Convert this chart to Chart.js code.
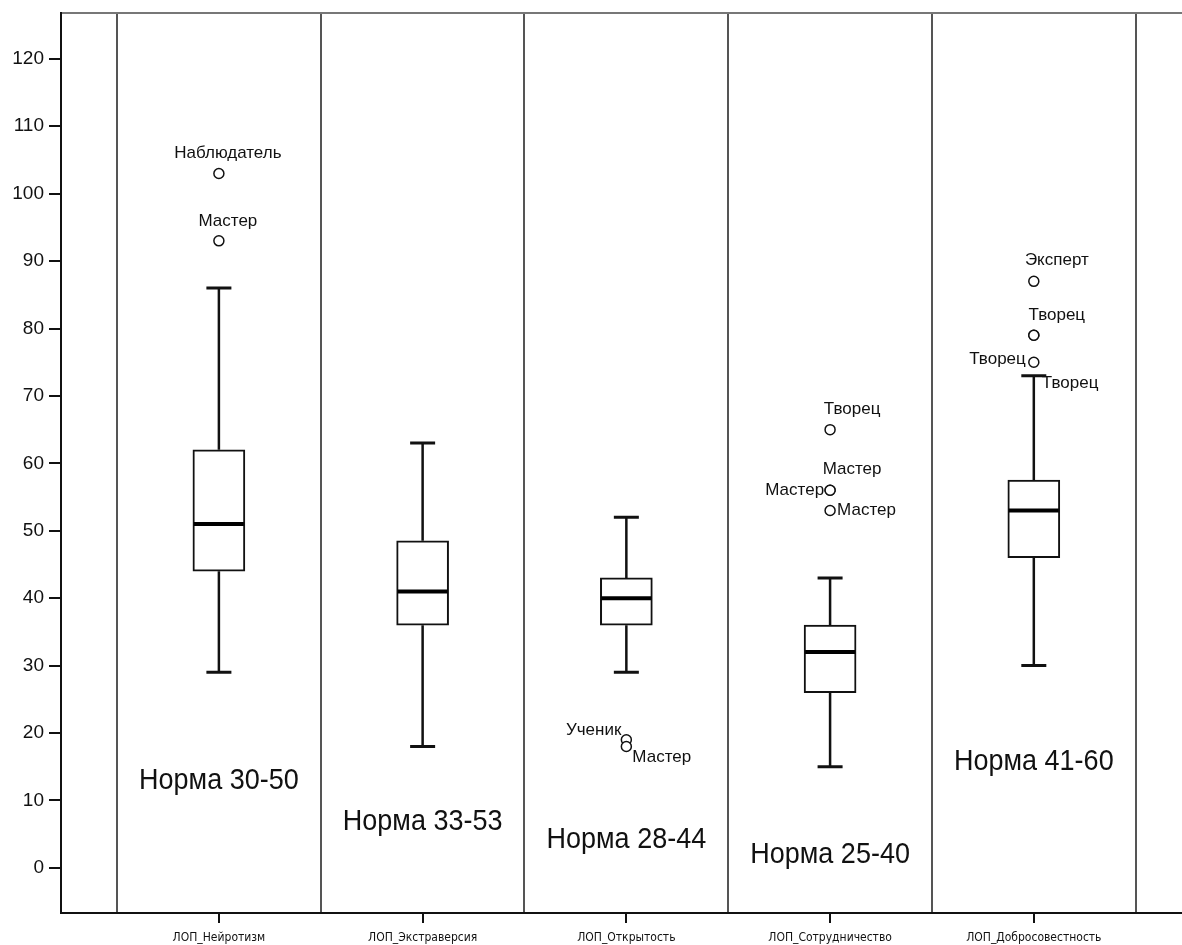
<!DOCTYPE html>
<html>
<head>
<meta charset="utf-8">
<script src="https://cdn.jsdelivr.net/npm/chart.js@4"></script>
<style>
    html, body { margin: 0; padding: 0; background: #fff; overflow: hidden; }
    canvas { display: block; }
</style>
</head>
<body>
<!-- a little wider than the window: the original plot runs past the right edge -->
<canvas id="boxChart" width="1187" height="945"></canvas>
<script>
"use strict";

// categories and box statistics
const categories = ['ЛОП_Нейротизм', 'ЛОП_Экстраверсия', 'ЛОП_Открытость', 'ЛОП_Сотрудничество', 'ЛОП_Добросовестность'];
const whiskerLow = [29, 18, 29, 15, 30];
const q1 = [44, 36, 36, 26, 46];
const median = [51, 41, 40, 32, 53];
const q3 = [62, 48.5, 43, 36, 57.5];
const whiskerHigh = [86, 63, 52, 43, 73];

// outliers: which box, value, name
const outlierBox = [0, 0, 2, 2, 3, 3, 3, 3, 4, 4, 4, 4];
const outlierValue = [103, 93, 19, 18, 65, 56, 56, 53, 87, 79, 79, 75];
const outlierName = ['Наблюдатель', 'Мастер', 'Ученик', 'Мастер', 'Творец', 'Мастер', 'Мастер', 'Мастер', 'Эксперт', 'Творец', 'Творец', 'Творец'];

const normText = ['Норма 30-50', 'Норма 33-53', 'Норма 28-44', 'Норма 25-40', 'Норма 41-60'];
const yTicks = [0, 10, 20, 30, 40, 50, 60, 70, 80, 90, 100, 110, 120];
const separators = [-0.5, 0.5, 1.5, 2.5, 3.5, 4.5];

// layout of the text pieces (not data)
const normLabelY = [12.9, 6.8, 4.2, 1.9, 15.7];
const outlierLabelPos = [
    { align: 'center', dx: 9, dy: -20 },
    { align: 'center', dx: 9, dy: -20 },
    { align: 'right', dx: -5, dy: -9 },
    { align: 'left', dx: 6, dy: 11 },
    { align: 'center', dx: 22, dy: -20 },
    { align: 'center', dx: 22, dy: -21 },
    { align: 'right', dx: -6, dy: 0 },
    { align: 'left', dx: 7, dy: 0 },
    { align: 'center', dx: 23, dy: -21 },
    { align: 'center', dx: 23, dy: -20 },
    { align: 'left', dx: 8, dy: 48 },
    { align: 'right', dx: -8, dy: -3 }
];

const ink = '#111';
const X_MIN = -0.775, X_MAX = 4.72;

// drop the label-overflow padding so the plot fills the canvas like the original
function noPadding(scale) {
    scale.paddingLeft = 0;
    scale.paddingRight = 0;
    scale.paddingTop = 0;
    scale.paddingBottom = 0;
}

const boxExtras = {
    id: 'boxExtras',
    beforeDatasetsDraw(chart) {
        const ctx = chart.ctx, x = chart.scales.x, y = chart.scales.y;
        ctx.save();
        ctx.strokeStyle = ink;
        ctx.lineCap = 'butt';
        categories.forEach((c, i) => {
            const px = x.getPixelForValue(i);
            ctx.lineWidth = 2.5;
            ctx.beginPath();
            ctx.moveTo(px, y.getPixelForValue(whiskerHigh[i]));
            ctx.lineTo(px, y.getPixelForValue(q3[i]));
            ctx.moveTo(px, y.getPixelForValue(q1[i]));
            ctx.lineTo(px, y.getPixelForValue(whiskerLow[i]));
            ctx.stroke();
            ctx.lineWidth = 3;
            ctx.beginPath();
            [whiskerHigh[i], whiskerLow[i]].forEach(v => {
                const py = y.getPixelForValue(v);
                ctx.moveTo(px - 12.5, py);
                ctx.lineTo(px + 12.5, py);
            });
            ctx.stroke();
        });
        ctx.restore();
    },
    afterDatasetsDraw(chart) {
        const ctx = chart.ctx, x = chart.scales.x, y = chart.scales.y;
        ctx.save();
        // medians
        ctx.strokeStyle = '#000';
        ctx.lineWidth = 4;
        categories.forEach((c, i) => {
            const px = x.getPixelForValue(i);
            const py = y.getPixelForValue(median[i]);
            ctx.beginPath();
            ctx.moveTo(px - 25, py);
            ctx.lineTo(px + 25, py);
            ctx.stroke();
        });
        // outlier names
        ctx.fillStyle = ink;
        ctx.font = '17px "Liberation Sans", Arial, sans-serif';
        ctx.textBaseline = 'middle';
        outlierName.forEach((name, k) => {
            const pos = outlierLabelPos[k];
            ctx.textAlign = pos.align;
            ctx.fillText(name,
                x.getPixelForValue(outlierBox[k]) + pos.dx,
                y.getPixelForValue(outlierValue[k]) + pos.dy);
        });
        // norm notes, slightly stretched vertically like the original
        ctx.font = '27px "Liberation Sans", Arial, sans-serif';
        ctx.textAlign = 'center';
        normText.forEach((t, i) => {
            ctx.save();
            ctx.translate(x.getPixelForValue(i), y.getPixelForValue(normLabelY[i]));
            ctx.scale(1, 1.08);
            ctx.fillText(t, 0, 0);
            ctx.restore();
        });
        ctx.restore();
    }
};

const ctx = document.getElementById('boxChart').getContext('2d');
new Chart(ctx, {
    type: 'bar',
    data: {
        datasets: [{
            type: 'bar',
            data: categories.map((c, i) => ({ x: i, y: [q1[i], q3[i]] })),
            backgroundColor: '#fff',
            borderColor: ink,
            borderWidth: 2,
            borderSkipped: false,
            barThickness: 52
        }, {
            type: 'scatter',
            data: outlierValue.map((v, k) => ({ x: outlierBox[k], y: v })),
            pointStyle: 'circle',
            pointRadius: 5,
            pointBorderWidth: 1.5,
            pointBorderColor: ink,
            pointBackgroundColor: '#fff'
        }]
    },
    options: {
        responsive: false,
        animation: false,
        layout: { padding: { top: 13, left: 0, right: 0, bottom: 0 } },
        plugins: {
            legend: { display: false },
            tooltip: { enabled: false }
        },
        scales: {
            x: {
                type: 'linear',
                position: 'bottom',
                offset: false,
                min: X_MIN,
                max: X_MAX,
                afterBuildTicks: scale => { scale.ticks = categories.map((c, i) => ({ value: i })); },
                afterFit: scale => { scale.height = 32; noPadding(scale); },
                ticks: {
                    autoSkip: false,
                    maxRotation: 0,
                    padding: 8,
                    color: ink,
                    font: { family: '"Liberation Sans Narrow", "DejaVu Sans Condensed", sans-serif', size: 12 },
                    callback: value => categories[value]
                },
                grid: { offset: false, drawOnChartArea: false, tickLength: 10, color: ink, lineWidth: 2 },
                border: { color: ink, width: 2 }
            },
            x2: {
                type: 'linear',
                position: 'top',
                offset: false,
                min: X_MIN,
                max: X_MAX,
                afterBuildTicks: scale => { scale.ticks = separators.map(v => ({ value: v })); },
                afterFit: scale => { scale.height = 0; noPadding(scale); },
                ticks: { display: false },
                grid: { offset: false, drawOnChartArea: true, drawTicks: false, color: '#555', lineWidth: 2 },
                border: { color: '#777', width: 2 }
            },
            y: {
                type: 'linear',
                min: -6.7,
                max: 126.8,
                afterBuildTicks: scale => { scale.ticks = yTicks.map(v => ({ value: v })); },
                afterFit: scale => { scale.width = 61; noPadding(scale); },
                ticks: {
                    padding: 5,
                    color: ink,
                    font: { family: '"Liberation Sans", Arial, sans-serif', size: 19 }
                },
                grid: { drawOnChartArea: false, tickLength: 12, color: ink, lineWidth: 2 },
                border: { color: ink, width: 2 }
            }
        }
    },
    plugins: [boxExtras]
});
</script>
</body>
</html>
